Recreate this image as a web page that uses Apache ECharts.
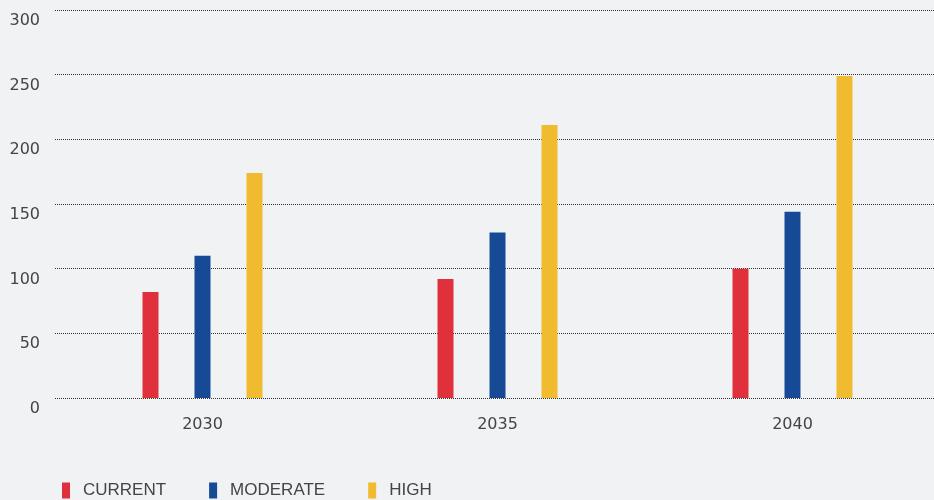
<!DOCTYPE html>
<html><head><meta charset="utf-8">
<script src="https://cdn.jsdelivr.net/npm/echarts@6/dist/echarts.min.js"></script>
<style>html,body{margin:0;padding:0;background:#f1f2f4;overflow:hidden}#c{width:940px;height:500px}</style>
</head><body><div id="c"></div>
<script>
const categories = ['2030', '2035', '2040'];
const current = [82, 92, 100];
const moderate = [110, 128, 144];
const high = [174, 211, 249];
const seriesNames = ['CURRENT', 'MODERATE', 'HIGH'];
const colors = ['#e0303b', '#164a96', '#f0bb2e'];

const chart = echarts.init(document.getElementById('c'));
const values = [current, moderate, high];
chart.setOption({
  backgroundColor: '#f1f2f4',
  animation: false,
  color: colors,
  grid: { left: 55, right: 0, top: 10, bottom: 102 },
  legend: {
    left: 62, top: 482, padding: 0, icon: 'rect', itemWidth: 8, itemHeight: 16, itemGap: 43,
    textStyle: { fontFamily: 'Liberation Sans', fontSize: 17, color: '#444', padding: [0,0,0,8] },
    data: seriesNames
  },
  xAxis: {
    type: 'category', data: categories,
    axisLine: { show: false }, axisTick: { show: false },
    axisLabel: { margin: 19, fontFamily: 'DejaVu Sans', fontSize: 16, color: '#444' }
  },
  yAxis: {
    type: 'value', min: 0, max: 300, interval: 50,
    axisLine: { show: false }, axisTick: { show: false },
    axisLabel: { margin: 15, fontFamily: 'DejaVu Sans', fontSize: 16, color: '#444', verticalAlign: 'top', padding: [3,0,0,0] },
    splitLine: { lineStyle: { color: '#333', type: [1, 1], width: 1 } }
  },
  series: seriesNames.map((n, i) => ({
    name: n, type: 'bar', data: values[i], barWidth: 16, barGap: '225%'
  }))
});
</script></body></html>
